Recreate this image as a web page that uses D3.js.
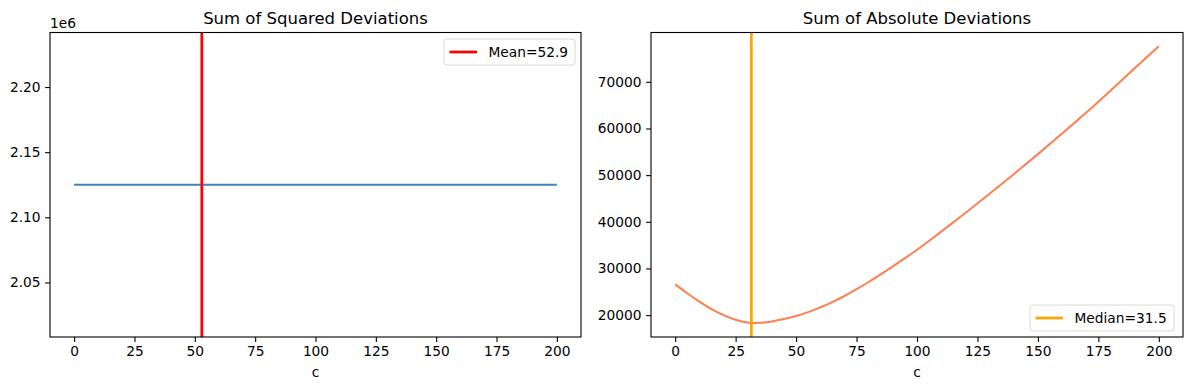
<!DOCTYPE html>
<html lang="en">
<head>
    <meta charset="UTF-8">
    <title>Squared vs Absolute Deviations</title>
    <script src="https://d3js.org/d3.v7.min.js"></script>
    <style>
        body {
            margin: 0;
            padding: 0;
            background: #fff;
        }
        svg text {
            font-family: "DejaVu Sans", sans-serif;
            fill: #000;
        }
        .tick text {
            font-size: 13.75px;
        }
        .tick line {
            stroke: #000;
            stroke-width: 1.1;
        }
    </style>
</head>
<body>
<svg id="chart" width="1189" height="390"></svg>
<script>
    // values
    const ssdC = [0, 50, 100, 150, 200];
    const ssdValues = [2125000, 2125000, 2125000, 2125000, 2125000];

    const sadC = [0, 5, 10, 15, 20, 25, 30, 31.5, 35, 40, 45, 50, 55, 60, 65, 70, 75, 80, 85, 90, 95,
        100, 110, 120, 130, 140, 150, 160, 170, 180, 190, 200];
    const sadValues = [26600, 24700, 22900, 21300, 20000, 19000, 18400, 18300, 18350, 18650, 19150, 19800,
        20650, 21650, 22800, 24100, 25550, 27100, 28750, 30450, 32200,
        34000, 37900, 41900, 46000, 50200, 54500, 58900, 63400, 68100, 72900, 77600];

    const xTicks = [0, 25, 50, 75, 100, 125, 150, 175, 200];
    const ssdTicks = [2050000, 2100000, 2150000, 2200000];
    const sadTicks = [20000, 30000, 40000, 50000, 60000, 70000];

    const meanValue = 52.9;
    const medianValue = 31.5;

    const svg = d3.select("#chart");
    const plotTop = 32.5, plotBottom = 337;

    function drawPanel(opts) {
        const g = svg.append("g");
        const x = d3.scaleLinear().domain([-10, 210]).range([opts.left, opts.right]);
        const y = d3.scaleLinear().domain(opts.yDomain).range([plotBottom, plotTop]);

        // x axis
        g.append("g")
            .attr("transform", `translate(0,${plotBottom})`)
            .call(d3.axisBottom(x).tickValues(xTicks).tickSize(4.9).tickPadding(4.5).tickFormat(d3.format("d")))
            .call(a => a.select(".domain").remove());

        // y axis
        g.append("g")
            .attr("transform", `translate(${opts.left},0)`)
            .call(d3.axisLeft(y).tickValues(opts.yTicks).tickSize(4.9).tickPadding(4.5).tickFormat(opts.yFormat))
            .call(a => a.select(".domain").remove());

        const clipId = "clip" + opts.left;
        svg.append("clipPath").attr("id", clipId)
            .append("rect")
            .attr("x", opts.left).attr("y", plotTop)
            .attr("width", opts.right - opts.left).attr("height", plotBottom - plotTop);

        const plot = g.append("g").attr("clip-path", `url(#${clipId})`);

        const line = d3.line()
            .x((d, i) => x(opts.xs[i]))
            .y(d => y(d))
            .curve(d3.curveMonotoneX);

        plot.append("path")
            .datum(opts.ys)
            .attr("fill", "none")
            .attr("stroke", opts.lineColor)
            .attr("stroke-width", 2)
            .attr("d", line);

        plot.append("line")
            .attr("x1", x(opts.vline)).attr("x2", x(opts.vline))
            .attr("y1", plotTop).attr("y2", plotBottom)
            .attr("stroke", opts.vColor)
            .attr("stroke-width", 2.75);

        // frame
        g.append("rect")
            .attr("x", opts.left).attr("y", plotTop)
            .attr("width", opts.right - opts.left).attr("height", plotBottom - plotTop)
            .attr("fill", "none")
            .attr("stroke", "#000")
            .attr("stroke-width", 1.1);

        // title and x label
        g.append("text")
            .attr("x", (opts.left + opts.right) / 2)
            .attr("y", 24)
            .attr("text-anchor", "middle")
            .style("font-size", "16.5px")
            .text(opts.title);

        g.append("text")
            .attr("x", (opts.left + opts.right) / 2)
            .attr("y", 377)
            .attr("text-anchor", "middle")
            .style("font-size", "13.75px")
            .text("c");

        // legend
        const lg = g.append("g").attr("transform", `translate(${opts.legendX},${opts.legendY})`);
        lg.append("rect")
            .attr("width", opts.legendW).attr("height", 26)
            .attr("rx", 3)
            .attr("fill", "#fff")
            .attr("fill-opacity", 0.8)
            .attr("stroke", "#d9d9d9")
            .attr("stroke-width", 1);
        lg.append("line")
            .attr("x1", 5.5).attr("x2", 33)
            .attr("y1", 13).attr("y2", 13)
            .attr("stroke", opts.vColor)
            .attr("stroke-width", 2.75);
        lg.append("text")
            .attr("x", 44.5).attr("y", 18)
            .style("font-size", "13.75px")
            .text(opts.legendText);

        return g;
    }

    const leftPanel = drawPanel({
        left: 50, right: 581,
        xs: ssdC, ys: ssdValues,
        yDomain: [2008125, 2241875],
        yTicks: ssdTicks,
        yFormat: d => (d / 1e6).toFixed(2),
        lineColor: "steelblue",
        vline: meanValue, vColor: "red",
        title: "Sum of Squared Deviations",
        legendText: "Mean=" + meanValue,
        legendX: 444, legendY: 39, legendW: 131
    });

    leftPanel.append("text")
        .attr("x", 50)
        .attr("y", 28)
        .style("font-size", "13.75px")
        .text("1e6");

    drawPanel({
        left: 651, right: 1183,
        xs: sadC, ys: sadValues,
        yDomain: [15314, 80566],
        yTicks: sadTicks,
        yFormat: d3.format("d"),
        lineColor: "coral",
        vline: medianValue, vColor: "orange",
        title: "Sum of Absolute Deviations",
        legendText: "Median=" + medianValue,
        legendX: 1030, legendY: 305, legendW: 144
    });
</script>
</body>
</html>
